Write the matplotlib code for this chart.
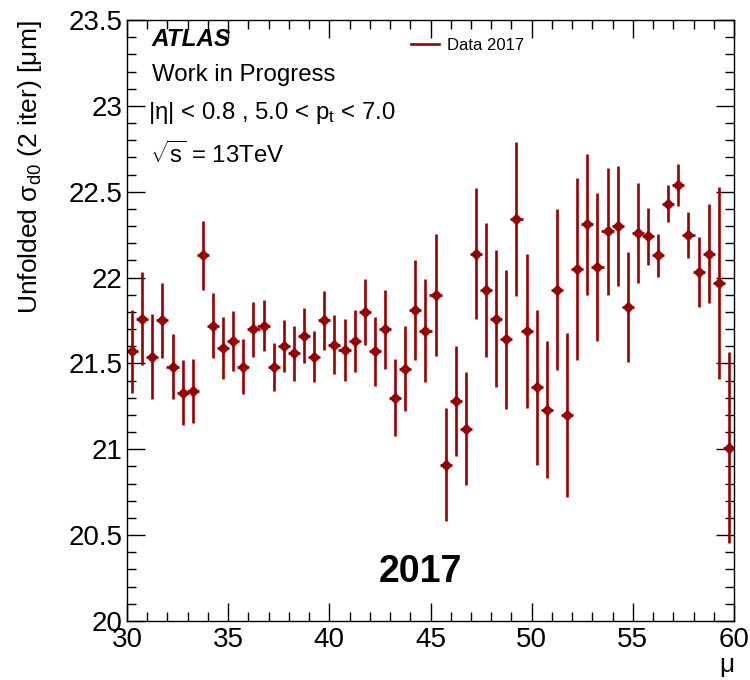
#!/usr/bin/env python
# -*- coding: utf-8 -*-
import matplotlib
matplotlib.use('Agg')
import matplotlib.pyplot as plt
from matplotlib.lines import Line2D
from matplotlib.ticker import MultipleLocator

# pile-up bins (centres) and unfolded d0 resolution, 2017 data
mu = [30.25, 30.75, 31.25, 31.75, 32.25, 32.75, 33.25, 33.75, 34.25, 34.75,
      35.25, 35.75, 36.25, 36.75, 37.25, 37.75, 38.25, 38.75, 39.25, 39.75,
      40.25, 40.75, 41.25, 41.75, 42.25, 42.75, 43.25, 43.75, 44.25, 44.75,
      45.25, 45.75, 46.25, 46.75, 47.25, 47.75, 48.25, 48.75, 49.25, 49.75,
      50.25, 50.75, 51.25, 51.75, 52.25, 52.75, 53.25, 53.75, 54.25, 54.75,
      55.25, 55.75, 56.25, 56.75, 57.25, 57.75, 58.25, 58.75, 59.25, 59.75]
mu_halfwidth = 0.3

sigma_d0 = [21.57, 21.76, 21.54, 21.75, 21.48, 21.33, 21.34, 22.13, 21.72, 21.59,
            21.63, 21.48, 21.70, 21.72, 21.48, 21.60, 21.56, 21.66, 21.54, 21.75,
            21.61, 21.58, 21.63, 21.80, 21.57, 21.70, 21.30, 21.47, 21.81, 21.69,
            21.90, 20.91, 21.28, 21.12, 22.14, 21.93, 21.76, 21.64, 22.34, 21.69,
            21.36, 21.23, 21.93, 21.20, 22.05, 22.31, 22.06, 22.27, 22.30, 21.83,
            22.26, 22.24, 22.13, 22.43, 22.54, 22.25, 22.03, 22.14, 21.97, 21.01]

sigma_d0_err = [0.24, 0.27, 0.245, 0.22, 0.19, 0.19, 0.185, 0.20, 0.19, 0.18,
                0.175, 0.16, 0.16, 0.15, 0.14, 0.15, 0.16, 0.16, 0.15, 0.17,
                0.17, 0.18, 0.18, 0.19, 0.20, 0.23, 0.225, 0.25, 0.29, 0.30,
                0.355, 0.33, 0.32, 0.33, 0.38, 0.39, 0.40, 0.405, 0.45, 0.45,
                0.45, 0.40, 0.47, 0.48, 0.53, 0.41, 0.43, 0.37, 0.35, 0.32,
                0.29, 0.165, 0.125, 0.107, 0.124, 0.134, 0.204, 0.286, 0.56, 0.555]

red = '#9a0000'

plt.rcParams['font.family'] = ['Liberation Sans', 'DejaVu Sans']
plt.rcParams['mathtext.fontset'] = 'custom'
plt.rcParams['mathtext.rm'] = 'Liberation Sans'
plt.rcParams['mathtext.it'] = 'Liberation Sans:italic'
plt.rcParams['mathtext.bf'] = 'Liberation Sans:bold'

fig = plt.figure(figsize=(7.5, 6.8), dpi=100)
ax = fig.add_axes([0.1693, 0.0868, 0.8094, 0.8838])

ax.errorbar(mu, sigma_d0, yerr=sigma_d0_err, xerr=mu_halfwidth, fmt='D',
            color=red, ecolor=red, markersize=5.3, elinewidth=1.9, capsize=0)

ax.set_xlim(30, 60)
ax.set_ylim(20, 23.5)
ax.xaxis.set_major_locator(MultipleLocator(5))
ax.xaxis.set_minor_locator(MultipleLocator(1))
ax.yaxis.set_major_locator(MultipleLocator(0.5))
ax.yaxis.set_minor_locator(MultipleLocator(0.1))
ax.yaxis.set_major_formatter(plt.FuncFormatter(lambda v, p: '%g' % v))
ax.tick_params(which='both', direction='in', top=True, right=True, width=1)
ax.tick_params(which='major', length=13, labelsize=20)
ax.tick_params(which='minor', length=6.5)
ax.tick_params(axis='x', which='major', pad=4)
ax.tick_params(axis='y', which='major', pad=3)
for s in ax.spines.values():
    s.set_linewidth(1.0)

ax.set_ylabel('Unfolded σ$_{\\mathrm{d0}}$ (2 iter) [μm]', fontsize=19, loc='top')
ax.yaxis.set_label_coords(-0.137, 1.0)
ax.set_xlabel('μ', fontsize=19, loc='right', labelpad=0)

ax.text(0.041, 0.967, 'ATLAS', transform=ax.transAxes, fontsize=17.5,
        fontweight='bold', fontstyle='italic', va='center', ha='left')
ax.text(0.041, 0.908, 'Work in Progress', transform=ax.transAxes,
        fontsize=17.3, va='center', ha='left')
ax.text(0.034, 0.845, '|η| < 0.8 , 5.0 < p$_{\\mathrm{t}}$ < 7.0',
        transform=ax.transAxes, fontsize=17.3, va='center', ha='left')
ax.text(0.038, 0.776, '$\\sqrt{\\mathrm{s}}$ = 13TeV', transform=ax.transAxes,
        fontsize=17.3, va='center', ha='left')
ax.text(0.483, 0.0815, '2017', transform=ax.transAxes, fontsize=27,
        fontweight='bold', va='center', ha='center')

handle = Line2D([], [], color=red, lw=1.9)
ax.legend([handle], ['Data 2017'], loc='center left', bbox_to_anchor=(0.468, 0.958),
          frameon=False, fontsize=12, handlelength=1.7, handletextpad=0.45,
          borderpad=0, borderaxespad=0)

plt.savefig('out.png', dpi=100)
plt.close()
